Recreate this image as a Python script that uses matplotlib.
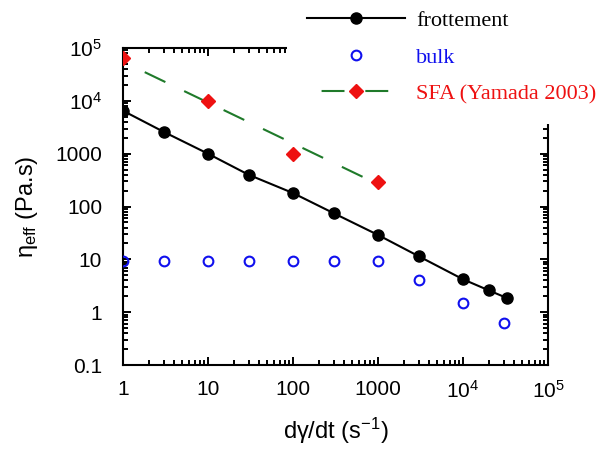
import matplotlib
matplotlib.use("Agg")
import matplotlib.pyplot as plt
from matplotlib.ticker import LogLocator, FixedLocator, FixedFormatter, NullFormatter

# Shear rate (s^-1) and effective viscosity (Pa.s)
rate_frot = [1, 3, 10, 30, 100, 300, 1000, 3000, 1e4, 2e4, 3.3e4]
eta_frot = [6500, 2600, 1000, 400, 180, 75, 29, 11.5, 4.2, 2.6, 1.85]

rate_bulk = [1, 3, 10, 30, 100, 300, 1000, 3000, 1e4, 3e4]
eta_bulk = [9.5, 9.5, 9.5, 9.5, 9.5, 9.5, 9.5, 4.0, 1.5, 0.62]

rate_sfa = [1, 10, 100, 1000]
eta_sfa = [65000, 10000, 1000, 290]

# Power-law trend through the SFA data
sfa_fit_rate = [1.8, 850]
sfa_fit_eta = [35000, 300]

xtick_vals = [1, 10, 100, 1000, 1e4, 1e5]
xtick_labels = ["1", "10", "100", "1000", r"10$^{4}$", r"10$^{5}$"]
ytick_vals = [0.1, 1, 10, 100, 1000, 1e4, 1e5]
ytick_labels = ["0.1", "1", "10", "100", "1000", r"10$^{4}$", r"10$^{5}$"]

plt.rcParams["font.family"] = ["Liberation Sans", "DejaVu Sans"]
plt.rcParams["mathtext.fontset"] = "custom"
plt.rcParams["mathtext.rm"] = "Liberation Sans"
plt.rcParams["mathtext.it"] = "Liberation Sans"
plt.rcParams["mathtext.bf"] = "Liberation Sans:bold"
for a in ("xtick", "ytick"):
    plt.rcParams[f"{a}.direction"] = "in"
    plt.rcParams[f"{a}.major.size"] = 6
    plt.rcParams[f"{a}.minor.size"] = 3.5
    plt.rcParams[f"{a}.major.width"] = 1.4
    plt.rcParams[f"{a}.minor.width"] = 1.4
    plt.rcParams[f"{a}.labelsize"] = 15
plt.rcParams["xtick.major.pad"] = 11
plt.rcParams["ytick.major.pad"] = 15
plt.rcParams["xtick.top"] = True
plt.rcParams["ytick.right"] = True

fig = plt.figure(figsize=(6.01, 4.49), dpi=100)
ax = fig.add_axes([0.2047, 0.187, 0.7071, 0.706])

green = "#1f7a2a"
blue = "#1010ee"
red = "#ee1111"

l_frot, = ax.plot(rate_frot, eta_frot, "-", color="black", lw=1.5,
                  marker="o", ms=8, mfc="black", mec="black", zorder=4)
l_bulk, = ax.plot(rate_bulk, eta_bulk, linestyle="none", marker="o", ms=7,
                  mfc="none", mec=blue, mew=1.5, zorder=3)
ax.plot(sfa_fit_rate, sfa_fit_eta, color=green, lw=1.5,
        linestyle=(0, (11, 10)), zorder=2)
ax.plot(rate_sfa, eta_sfa, linestyle="none", marker="D", ms=7,
        mfc=red, mec=red, zorder=5)

# legend proxy combining the dashed trend and the diamond marker
l_sfa, = ax.plot([], [], color=green, lw=1.5, linestyle=(14, (11, 10)),
                 marker="D", ms=7, mfc=red, mec=red)

ax.set_xscale("log")
ax.set_yscale("log")
ax.set_xlim(1, 1e5)
ax.set_ylim(0.1, 1e5)

ax.xaxis.set_major_locator(FixedLocator(xtick_vals))
ax.xaxis.set_major_formatter(FixedFormatter(xtick_labels))
ax.yaxis.set_major_locator(FixedLocator(ytick_vals))
ax.yaxis.set_major_formatter(FixedFormatter(ytick_labels))
ax.xaxis.set_minor_locator(LogLocator(base=10, subs=range(2, 10), numticks=50))
ax.yaxis.set_minor_locator(LogLocator(base=10, subs=range(2, 10), numticks=50))
ax.xaxis.set_minor_formatter(NullFormatter())
ax.yaxis.set_minor_formatter(NullFormatter())

for sp in ax.spines.values():
    sp.set_linewidth(1.5)

ax.set_xlabel(r"d$\gamma$/dt (s$^{-1}$)", fontsize=17, labelpad=10)
ax.set_ylabel(r"$\eta_{\mathrm{eff}}$ (Pa.s)", fontsize=17, labelpad=11)

leg = fig.legend([l_frot, l_bulk, l_sfa],
                 ["frottement", "bulk", "SFA (Yamada 2003)"],
                 loc="upper left", bbox_to_anchor=(0.4775, 1.021),
                 borderaxespad=0,
                 prop={"family": "Liberation Serif", "size": 16},
                 frameon=True, fancybox=False, framealpha=1,
                 facecolor="white", edgecolor="none",
                 handlelength=4.4, handletextpad=0.5, labelspacing=0.72,
                 borderpad=0.9, numpoints=1)
for txt, c in zip(leg.get_texts(), ["black", blue, red]):
    txt.set_color(c)

fig.savefig("out.png", dpi=100)
